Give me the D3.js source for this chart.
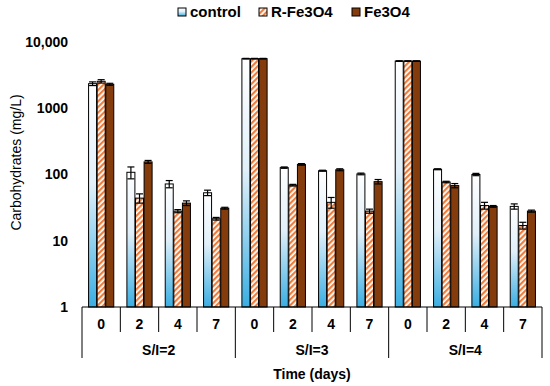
<!DOCTYPE html>
<html><head><meta charset="utf-8">
<script src="https://cdn.jsdelivr.net/npm/d3@7"></script>
<style>body{margin:0;background:#fff}svg{display:block;font-family:"Liberation Sans",Arial,sans-serif}</style>
</head><body><svg id="c" width="550" height="386"></svg>
<script>
const groups = ["S/I=2","S/I=3","S/I=4"];
const days = ["0","2","4","7"];
const seriesNames = ["control","R-Fe3O4","Fe3O4"];
const controlVals = [2350,108,72,53, 5600,127,114,102, 5150,120,100,33];
const rfeVals     = [2550,44,28,21.5, 5600,69,38,28, 5150,77,34,17];
const feVals      = [2300,155,37,31, 5600,142,118,78, 5150,68,33,28];
const controlErr  = [150,22,9,5, 60,3,2,3, 60,2,4,3];
const rfeErr      = [150,7,1.5,1, 60,2,7,2, 60,2,4,2];
const feErr       = [80,8,3,1, 60,4,4,6, 60,5,1,1];
const yTicks = [1,10,100,1000,10000];
const yTickLabels = ["1","10","100","1000","10,000"];

(function(){
const svg = d3.select("#c");
const pl = 82, pr = 542, pt = 42, pb = 307;
const cats = [];
groups.forEach(g => days.forEach(d => cats.push(g + "|" + d)));
const x = d3.scaleBand().domain(cats).range([pl, pr]);
const y = d3.scaleLog().domain([1, 10000]).range([pb, pt]);

const defs = svg.append("defs");
const grad = defs.append("linearGradient").attr("id","gblue").attr("x1",0).attr("y1",0).attr("x2",0).attr("y2",1);
grad.append("stop").attr("offset","0").attr("stop-color","#ffffff");
grad.append("stop").attr("offset","0.45").attr("stop-color","#e0eff9");
grad.append("stop").attr("offset","1").attr("stop-color","#3aaee2");
const pat = defs.append("pattern").attr("id","stripes").attr("patternUnits","userSpaceOnUse")
  .attr("width",4).attr("height",4).attr("patternTransform","rotate(45)");
pat.append("rect").attr("width",4).attr("height",4).attr("fill","#ffffff");
pat.append("rect").attr("width",2.2).attr("height",4).attr("fill","#F07C3A");

const fills = ["url(#gblue)","url(#stripes)","#843C0C"];
const vals = [controlVals, rfeVals, feVals];
const errs = [controlErr, rfeErr, feErr];
const bw = 8, gap = 0.6;
const bx = (i, s) => x(cats[i]) + x.bandwidth()/2 - (3*bw+2*gap)/2 + s*(bw+gap);

vals.forEach((arr, s) => {
  svg.append("g").selectAll("rect").data(arr).join("rect")
    .attr("x", (d,i) => bx(i,s))
    .attr("y", d => y(d))
    .attr("width", bw)
    .attr("height", d => pb - y(d))
    .attr("fill", fills[s])
    .attr("stroke", "#000").attr("stroke-width", 1);
});
vals.forEach((arr, s) => {
  const g = svg.append("g").attr("stroke","#000").attr("stroke-width",1.2);
  arr.forEach((d,i) => {
    const cx = bx(i,s) + bw/2;
    const e = errs[s][i];
    const y1 = y(d + e), y2 = y(Math.max(d - e, 1));
    g.append("line").attr("x1",cx).attr("x2",cx).attr("y1",y1).attr("y2",y2);
    g.append("line").attr("x1",cx-3.5).attr("x2",cx+3.5).attr("y1",y1).attr("y2",y1);
    g.append("line").attr("x1",cx-3.5).attr("x2",cx+3.5).attr("y1",y2).attr("y2",y2);
  });
});

svg.append("g").selectAll("text").data(yTicks).join("text")
  .attr("x", 68).attr("y", d => y(d)).attr("dy","0.35em")
  .attr("text-anchor","end").attr("font-weight","bold").attr("font-size",14)
  .text((d,i) => yTickLabels[i]);

svg.append("text").attr("transform", `translate(16,${(pt+pb)/2 - 12}) rotate(-90)`)
  .attr("text-anchor","middle").attr("dy","0.35em").attr("font-size",14)
  .text("Carbohydrates (mg/L)");

const ax = svg.append("g").attr("stroke","#000").attr("stroke-width",1);
ax.append("line").attr("x1",pl).attr("x2",pr).attr("y1",pb).attr("y2",pb);
cats.forEach((c,i) => {
  const xx = x(c);
  ax.append("line").attr("x1",xx).attr("x2",xx).attr("y1",pb).attr("y2", i % 4 === 0 ? 358 : 332);
});
ax.append("line").attr("x1",pr).attr("x2",pr).attr("y1",pb).attr("y2",358);
svg.append("g").selectAll("text").data(cats).join("text")
  .attr("x", c => x(c) + x.bandwidth()/2).attr("y", 324).attr("dy","0.35em")
  .attr("text-anchor","middle").attr("font-weight","bold").attr("font-size",14)
  .text(c => c.split("|")[1]);
svg.append("g").selectAll("text").data(groups).join("text")
  .attr("x", (g,i) => (x(cats[i*4]) + x(cats[i*4+3]) + x.bandwidth())/2).attr("y", 350).attr("dy","0.35em")
  .attr("text-anchor","middle").attr("font-weight","bold").attr("font-size",14)
  .text(g => g);
svg.append("text").attr("x",(pl+pr)/2).attr("y",374).attr("dy","0.35em")
  .attr("text-anchor","middle").attr("font-weight","bold").attr("font-size",14)
  .text("Time (days)");

const legX = [178, 259, 352];
const lg = svg.append("g");
seriesNames.forEach((n,i) => {
  lg.append("rect").attr("x",legX[i]).attr("y",8).attr("width",8).attr("height",8)
    .attr("fill",fills[i]).attr("stroke","#000").attr("stroke-width",1);
  lg.append("text").attr("x",legX[i]+12).attr("y",12).attr("dy","0.35em")
    .attr("font-weight","bold").attr("font-size",15).text(n);
});
})();
</script></body></html>
